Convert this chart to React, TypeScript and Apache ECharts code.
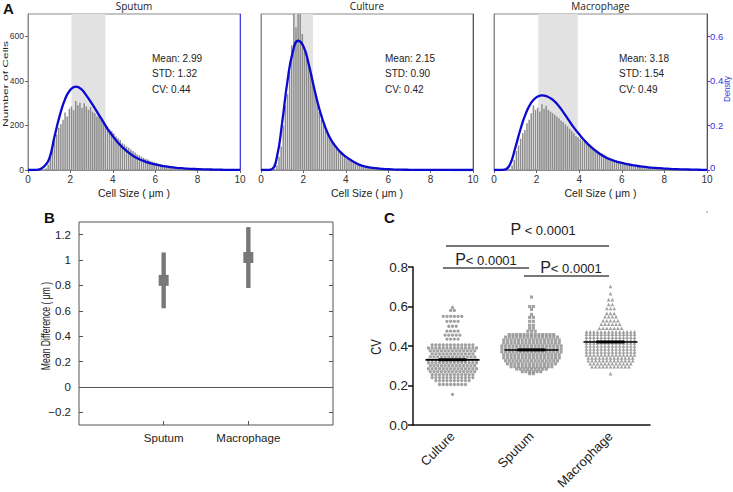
import React, { useEffect, useRef } from "react";
import * as echarts from "echarts";

// ---------- Panel A data ----------
const histStart = 0.5;
const histBinWidth = 0.1;
const sputumCounts = [0, 0, 2, 8, 25, 60, 95, 135, 160, 190, 205, 225, 258, 240, 275, 285, 268, 310, 290, 302, 278, 300, 285, 270, 282, 262, 255, 240, 248, 225, 215, 205, 195, 182, 175, 165, 150, 142, 135, 120, 115, 105, 100, 92, 85, 78, 70, 66, 60, 55, 50, 47, 42, 38, 35, 32, 28, 26, 24, 21, 19, 17, 15, 14, 12, 11, 10, 9, 8, 7, 6, 6, 5, 4, 4, 3, 3, 2, 2, 2, 1, 1, 1, 1, 0];
const cultureCounts = [0, 3, 20, 60, 105, 200, 290, 340, 445, 560, 760, 640, 720, 800, 610, 540, 500, 470, 430, 400, 345, 310, 260, 225, 205, 180, 160, 148, 130, 112, 100, 90, 82, 70, 60, 52, 48, 42, 38, 33, 30, 27, 22, 18, 15, 12, 10, 8, 7, 6, 5, 4, 3, 3, 2, 2, 1, 1, 1, 1, 0];
const macrophageCounts = [0, 0, 5, 20, 45, 85, 110, 140, 165, 180, 210, 225, 255, 290, 270, 280, 262, 295, 275, 288, 270, 262, 255, 248, 240, 232, 222, 215, 205, 196, 185, 175, 165, 152, 148, 140, 132, 125, 118, 112, 105, 100, 92, 88, 82, 76, 70, 65, 60, 55, 50, 47, 43, 40, 36, 33, 30, 28, 25, 23, 21, 19, 17, 15, 14, 13, 12, 10, 9, 8, 7, 7, 6, 5, 5, 4, 4, 3, 3, 2, 2, 2, 1, 1, 1];

const curveX = [0, 0.25, 0.5, 0.75, 1, 1.25, 1.5, 1.75, 2, 2.25, 2.5, 2.75, 3, 3.25, 3.5, 3.75, 4, 4.25, 4.5, 4.75, 5, 5.25, 5.5, 5.75, 6, 6.25, 6.5, 6.75, 7, 7.25, 7.5, 7.75, 8, 8.25, 8.5, 8.75, 9, 9.25, 9.5, 9.75, 10];
const sputumDensity = [0, 0, 0.002, 0.015, 0.05, 0.15, 0.245, 0.318, 0.36, 0.374, 0.364, 0.335, 0.3, 0.262, 0.224, 0.185, 0.152, 0.122, 0.098, 0.078, 0.061, 0.048, 0.039, 0.031, 0.025, 0.02, 0.016, 0.013, 0.01, 0.008, 0.006, 0.005, 0.004, 0.003, 0.0025, 0.002, 0.0015, 0.001, 0.001, 0.0008, 0.0006];
const cultureDensity = [0, 0, 0.003, 0.058, 0.215, 0.4, 0.53, 0.58, 0.555, 0.475, 0.37, 0.275, 0.2, 0.145, 0.108, 0.08, 0.06, 0.044, 0.03, 0.02, 0.014, 0.01, 0.007, 0.005, 0.0035, 0.0025, 0.0018, 0.0012, 0.001, 0.0008, 0.0006, 0.0005, 0.0004, 0.0003, 0.0002, 0.0002, 0.0001, 0.0001, 0.0001, 0, 0];
const macrophageDensity = [0, 0, 0.002, 0.025, 0.1, 0.185, 0.255, 0.302, 0.327, 0.335, 0.33, 0.316, 0.292, 0.26, 0.225, 0.19, 0.16, 0.132, 0.108, 0.088, 0.07, 0.056, 0.046, 0.038, 0.032, 0.026, 0.022, 0.018, 0.015, 0.012, 0.01, 0.008, 0.0065, 0.005, 0.004, 0.003, 0.0025, 0.002, 0.0015, 0.001, 0.001];

const panelATitles = ["Sputum", "Culture", "Macrophage"];
const bandRanges = [[2.05, 3.65], [1.57, 2.45], [2.08, 3.93]];
const statMeans = ["2.99", "2.15", "3.18"];
const statSTDs = ["1.32", "0.90", "1.54"];
const statCVs = ["0.44", "0.42", "0.49"];

// ---------- Panel B data ----------
const diffCategories = ["Sputum", "Macrophage"];
const diffPos = [1, 2];
const diffMean = [0.84, 1.02];
const diffLow = [0.62, 0.78];
const diffHigh = [1.06, 1.26];
const diffTicks = [-0.2, 0, 0.2, 0.4, 0.6, 0.8, 1, 1.2];

// ---------- Panel C data ----------
const cvCategories = ["Culture", "Sputum", "Macrophage"];
const cultureLevels = [0.595, 0.58, 0.55, 0.525, 0.5, 0.475, 0.455, 0.435, 0.405, 0.39, 0.375, 0.36, 0.345, 0.33, 0.315, 0.3, 0.285, 0.27, 0.255, 0.24, 0.225, 0.205, 0.155];
const cultureRowCounts = [1, 2, 6, 4, 3, 4, 5, 4, 12, 14, 13, 12, 13, 14, 14, 13, 14, 13, 12, 12, 10, 8, 1];
const sputumLevels = [0.648, 0.6, 0.585, 0.56, 0.545, 0.525, 0.505, 0.49, 0.475, 0.458, 0.445, 0.43, 0.415, 0.4, 0.385, 0.37, 0.355, 0.34, 0.325, 0.31, 0.295, 0.283, 0.27, 0.26];
const sputumRowCounts = [1, 2, 1, 1, 2, 2, 2, 2, 3, 13, 15, 16, 16, 17, 17, 17, 16, 16, 15, 14, 12, 9, 6, 2];
const macrophageLevels = [0.702, 0.665, 0.635, 0.61, 0.59, 0.565, 0.548, 0.528, 0.51, 0.49, 0.472, 0.46, 0.445, 0.43, 0.415, 0.4, 0.385, 0.37, 0.355, 0.34, 0.325, 0.31, 0.295, 0.26];
const macrophageRowCounts = [1, 1, 2, 2, 3, 3, 4, 5, 6, 7, 14, 14, 14, 14, 14, 14, 14, 14, 14, 13, 13, 12, 11, 1];
const cvMeans = [0.33, 0.38, 0.42];
const cvCiLow = [0.323, 0.373, 0.413];
const cvCiHigh = [0.338, 0.388, 0.428];

const FONT = "Liberation Sans";
const BLUE = "#0a0ad0";

function histData(counts: number[]) {
  return counts.map((c, i) => [histStart + (i + 0.5) * histBinWidth, c]);
}
function curveData(d: number[]) {
  return curveX.map((x, i) => [x, d[i]]);
}
function swarm(levels: number[], counts: number[], group: number, spacing: number) {
  const pts: number[][] = [];
  levels.forEach((v, r) => {
    const n = counts[r];
    for (let i = 0; i < n; i++) pts.push([group + (i - (n - 1) / 2) * spacing, v]);
  });
  return pts;
}

export default function App() {
  const ref = useRef<HTMLDivElement>(null);
  useEffect(() => {
    document.body.style.margin = "0";
    const chart = echarts.init(ref.current!, undefined, { renderer: "svg" });
    const gridsA = [
      { left: 28, top: 14, width: 212, height: 156 },
      { left: 261, top: 14, width: 212, height: 156 },
      { left: 494, top: 14, width: 213, height: 156 },
    ];
    const grid: any[] = gridsA.map((g) => ({ ...g, show: true, borderColor: "#8a8a8a", borderWidth: 1, backgroundColor: "#fff" }));
    grid.push({ left: 79, top: 222, width: 254, height: 203, show: true, borderColor: "#555", borderWidth: 1 });
    grid.push({ left: 413, top: 267, width: 237, height: 158 });

    const xAxis: any[] = [];
    const yAxis: any[] = [];
    const series: any[] = [];
    const countsList = [sputumCounts, cultureCounts, macrophageCounts];
    const densList = [sputumDensity, cultureDensity, macrophageDensity];

    for (let k = 0; k < 3; k++) {
      xAxis.push({
        type: "value", gridIndex: k, min: 0, max: 10, interval: 2,
        axisLine: { onZero: false, lineStyle: { color: "#8a8a8a" } },
        axisTick: { show: true, length: 3, lineStyle: { color: "#666" } },
        axisLabel: { fontSize: 10, color: "#333", margin: 4, fontFamily: FONT },
        splitLine: { show: false },
        name: "Cell Size ( μm )", nameLocation: "middle", nameGap: 17,
        nameTextStyle: { fontSize: 10.5, color: "#222", fontFamily: FONT },
      });
      yAxis.push({
        type: "value", gridIndex: k, min: 0, max: 700, interval: 200,
        axisLine: { show: true, onZero: false, lineStyle: { color: "#8a8a8a" } },
        axisTick: { show: k === 0, length: 3, lineStyle: { color: "#666" } },
        axisLabel: { show: k === 0, showMaxLabel: false, fontSize: 8.5, color: "#333", margin: 4, fontFamily: FONT },
        splitLine: { show: false },
      });
      yAxis.push({
        type: "value", gridIndex: k, position: "right", min: 0, max: 0.7, interval: 0.2,
        axisLine: { show: true, onZero: false, lineStyle: { color: "#4444dd", width: 1 } },
        axisTick: { show: k === 2, length: 3, lineStyle: { color: "#4444dd" } },
        axisLabel: {
          show: k === 2, showMaxLabel: false, fontSize: 9.5, color: "#3333dd", margin: 3, fontFamily: FONT,
          formatter: (v: number) => (v === 0 ? "{z|0}" : String(v)),
          rich: { z: { fontSize: 9.5, color: "#3333dd", fontFamily: FONT, padding: [0, 0, 5, 0] } },
        },
        splitLine: { show: false },
      });
      series.push({
        type: "line", xAxisIndex: k, yAxisIndex: 2 * k, data: [], silent: true, z: 1,
        markArea: {
          silent: true, itemStyle: { color: "#e2e2e2" },
          data: [[{ xAxis: bandRanges[k][0] }, { xAxis: bandRanges[k][1] }]],
        },
      });
      series.push({
        type: "bar", xAxisIndex: k, yAxisIndex: 2 * k, data: histData(countsList[k]),
        barWidth: 1.5, itemStyle: { color: "#8c8c8c" }, z: 3, clip: true, silent: true,
      });
      series.push({
        type: "line", xAxisIndex: k, yAxisIndex: 2 * k + 1, data: curveData(densList[k]),
        smooth: true, symbol: "none", lineStyle: { color: BLUE, width: 2.3 }, z: 5, silent: true,
      });
    }

    // Panel B axes
    xAxis.push({
      type: "value", gridIndex: 3, min: 0, max: 3, interval: 1,
      axisLine: { show: false, onZero: false },
      axisTick: { show: true, inside: true, length: 4, lineStyle: { color: "#555" }, customValues: diffPos },
      axisLabel: {
        fontSize: 11.5, color: "#222", margin: 7, fontFamily: FONT, customValues: diffPos,
        formatter: (v: number) => { const i = diffPos.indexOf(v); return i >= 0 ? diffCategories[i] : ""; },
      },
      splitLine: { show: false },
    });
    const bY = {
      type: "value", gridIndex: 3, min: -0.3, max: 1.3,
      axisLine: { show: false, onZero: false },
      axisTick: { show: true, inside: true, length: 4, lineStyle: { color: "#555" }, customValues: diffTicks },
      splitLine: { show: false },
    };
    yAxis.push({
      ...bY,
      axisLabel: {
        fontSize: 11.5, color: "#222", margin: 8, fontFamily: FONT, customValues: diffTicks,
        formatter: (v: number) => String(Math.round(v * 10) / 10).replace("-", "\u2212"),
      },
    });
    yAxis.push({ ...bY, position: "right", axisLabel: { show: false } });
    series.push({
      type: "custom", xAxisIndex: 3, yAxisIndex: 6,
      data: diffPos.map((x, i) => [x, diffLow[i], diffHigh[i], diffMean[i]]),
      renderItem: (_p: any, api: any) => {
        const x = api.value(0);
        const pLo = api.coord([x, api.value(1)]);
        const pHi = api.coord([x, api.value(2)]);
        const pM = api.coord([x, api.value(3)]);
        return {
          type: "group",
          children: [
            { type: "rect", shape: { x: pHi[0] - 2.2, y: pHi[1], width: 4.4, height: pLo[1] - pHi[1] }, style: { fill: "#787878" } },
            { type: "rect", shape: { x: pM[0] - 5, y: pM[1] - 5.5, width: 10, height: 11 }, style: { fill: "#787878" } },
          ],
        };
      },
      markLine: {
        silent: true, symbol: "none", label: { show: false },
        lineStyle: { color: "#555", width: 1, type: "solid" },
        data: [{ yAxis: 0 }],
      },
      z: 4,
    });

    // Panel C axes
    xAxis.push({
      type: "category", gridIndex: 4, data: cvCategories, boundaryGap: true,
      axisLine: { onZero: false, lineStyle: { color: "#111", width: 1.5 } },
      axisTick: { alignWithLabel: true, length: 5, lineStyle: { color: "#111", width: 1.5 } },
      axisLabel: { rotate: 45, fontSize: 13, color: "#222", margin: 9, fontFamily: FONT },
    });
    xAxis.push({ type: "value", gridIndex: 4, min: -0.5, max: 2.5, show: false, axisLine: { onZero: false } });
    yAxis.push({
      type: "value", gridIndex: 4, min: 0, max: 0.8, interval: 0.2,
      axisLine: { show: true, onZero: false, lineStyle: { color: "#111", width: 1.5 } },
      axisTick: { show: true, length: 5, lineStyle: { color: "#111", width: 1.5 } },
      axisLabel: { fontSize: 13.5, color: "#222", margin: 5, fontFamily: FONT, formatter: (v: number) => v.toFixed(1) },
      splitLine: { show: false },
    });
    const sp = 3.7 / 79;
    const swarmSets = [
      { d: swarm(cultureLevels, cultureRowCounts, 0, sp), s: "circle", size: 3.3 },
      { d: swarm(sputumLevels, sputumRowCounts, 1, sp), s: "rect", size: 3.1 },
      { d: swarm(macrophageLevels, macrophageRowCounts, 2, sp), s: "triangle", size: 3.6 },
    ];
    swarmSets.forEach((st) => {
      series.push({
        type: "scatter", xAxisIndex: 5, yAxisIndex: 8, data: st.d, symbol: st.s, symbolSize: st.size,
        itemStyle: { color: "#8a8a8a" }, silent: true, z: 3,
      });
    });
    series.push({
      type: "custom", xAxisIndex: 5, yAxisIndex: 8, z: 6,
      data: cvMeans.map((m, i) => [i, m, cvCiLow[i], cvCiHigh[i]]),
      renderItem: (_p: any, api: any) => {
        const x = api.value(0);
        const pM = api.coord([x, api.value(1)]);
        const pLo = api.coord([x, api.value(2)]);
        const pHi = api.coord([x, api.value(3)]);
        return {
          type: "group",
          children: [
            { type: "line", shape: { x1: pM[0] - 27, y1: pM[1], x2: pM[0] + 27, y2: pM[1] }, style: { stroke: "#000", lineWidth: 1.6 } },
            { type: "rect", shape: { x: pM[0] - 14, y: pHi[1], width: 28, height: pLo[1] - pHi[1] }, style: { fill: "#000" } },
          ],
        };
      },
    });

    const graphic: any[] = [];
    const statX = [155, 388, 622];
    for (let k = 0; k < 3; k++) {
      const g = gridsA[k];
      graphic.push({ type: "text", x: g.left + g.width / 2, y: 6, style: { text: panelATitles[k], fontSize: 10, fontFamily: "Open Sans", fill: "#222", align: "center", verticalAlign: "middle" } });
      const lines = ["Mean: " + statMeans[k], "STD: " + statSTDs[k], "CV: " + statCVs[k]];
      lines.forEach((t, j) => {
        graphic.push({ type: "text", x: statX[k] - 3, y: 58 + j * 15.5, style: { text: t, fontSize: 10, fontFamily: FONT, fill: "#222", align: "left", verticalAlign: "middle" } });
      });
    }
    // rotated axis titles
    const vText = (t: string, x: number, y: number, size: number, squeeze: number, color: string) => ({
      type: "text", x, y, rotation: Math.PI / 2, scaleX: squeeze,
      style: { text: t, fontSize: size, fontFamily: FONT, fill: color, align: "center", verticalAlign: "middle" },
    });
    graphic.push(vText("Number of Cells", 5.5, 84, 8, 1.5, "#222"));
    graphic.push(vText("Density", 727, 89, 9, 0.85, "#3333dd"));
    graphic.push(vText("Mean Difference ( μm )", 45, 326, 13.5, 0.64, "#222"));
    graphic.push(vText("CV", 377, 347, 14, 0.8, "#222"));

    const panelLabel = (t: string, x: number, y: number) => ({ type: "text", x, y, style: { text: t, fontSize: 15, fontWeight: "bold", fontFamily: FONT, fill: "#111", align: "left", verticalAlign: "top" } });
    graphic.push(panelLabel("A", 3, 1), panelLabel("B", 44, 210), panelLabel("C", 384, 210));
    graphic.push({ type: "circle", shape: { cx: 707, cy: 212, r: 0.8 }, style: { fill: "#aaa" } });
    const sigLine = (x1: number, x2: number, y: number) => ({ type: "line", shape: { x1, y1: y, x2, y2: y }, style: { stroke: "#777", lineWidth: 2 } });
    const sigText = (x: number, y: number, sp: string) => ({
      type: "text", x, y,
      style: {
        text: "{a|P}{b|" + sp + "< 0.0001}", align: "center", verticalAlign: "middle", fill: "#222",
        rich: { a: { fontSize: 16, fontFamily: FONT, fill: "#222" }, b: { fontSize: 13, fontFamily: FONT, fill: "#222", padding: [3, 0, 0, 0] } },
      },
    });
    graphic.push(sigLine(446, 609, 246), sigText(543, 229, " "));
    graphic.push(sigLine(443, 529, 268), sigText(486, 259, ""));
    graphic.push(sigLine(524, 609, 276), sigText(571, 267, ""));

    chart.setOption({
      animation: false,
      textStyle: { fontFamily: FONT },
      grid, xAxis, yAxis, series, graphic,
    });
    return () => chart.dispose();
  }, []);
  return <div ref={ref} style={{ position: "fixed", left: 0, top: 0, width: 733, height: 492, background: "#fff" }} />;
}
